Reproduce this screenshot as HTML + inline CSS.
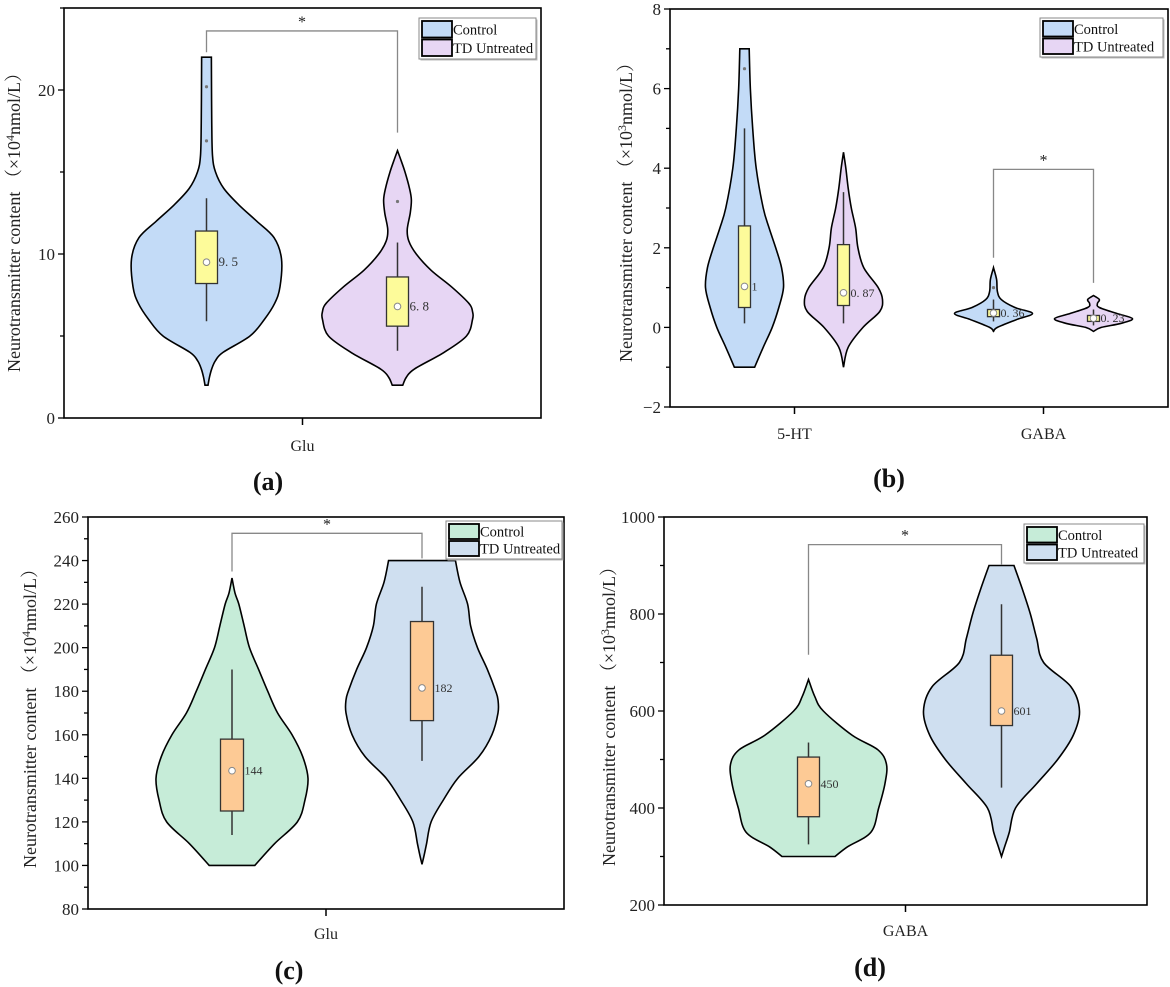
<!DOCTYPE html>
<html><head><meta charset="utf-8"><style>
html,body{margin:0;padding:0;background:#fff;}
svg{display:block;font-family:"Liberation Serif","Noto Serif CJK SC",serif;}
</style></head><body>
<svg id="fig" width="1170" height="987" viewBox="0 0 1170 987" xmlns="http://www.w3.org/2000/svg"></svg>
<script>
// ---------- DATA ----------
// Panel a
const aCategories=['Glu'];
const aMedian=[9.5,6.8];
const aQ1=[8.2,5.6];
const aQ3=[11.4,8.6];
const aWLo=[5.9,4.1];
const aWHi=[13.4,10.7];
const aLabels=['9. 5','6. 8'];
const aOutliers=[[20.2,16.9],[13.2]];
const aCtrlV=[2,2.5,3,3.5,4,5,6,7,8,9.7,11,12,13,14,15,16,18,20,22];
const aCtrlW=[0.02,0.04,0.07,0.12,0.22,0.58,0.77,0.91,0.98,1,0.9,0.67,0.43,0.23,0.12,0.08,0.07,0.067,0.065];
const aTdV=[2,2.5,3,4,5,6,6.5,7,8,9,10,10.8,11.5,12.5,13.3,14,15,15.8,16.3];
const aTdW=[0.07,0.12,0.23,0.62,0.92,1,1,0.95,0.72,0.45,0.25,0.15,0.13,0.17,0.185,0.16,0.1,0.04,0.0];
// Panel b
const bCategories=['5-HT','GABA'];
const bMedian=[1.03,0.87,0.36,0.23];
const bQ1=[0.5,0.55,0.27,0.15];
const bQ3=[2.55,2.08,0.45,0.3];
const bWLo=[0.1,0.1,0.15,0.05];
const bWHi=[5.0,3.4,0.7,0.45];
const bLabels=['1','0. 87','0. 36','0. 23'];
const bOutliers=[[6.5],[],[1.0],[]];
const bHtCtrlV=[-1,-0.5,0,0.5,1,1.5,2,2.5,3,4,5,6,7];
const bHtCtrlW=[0.26,0.48,0.71,0.88,1,0.95,0.8,0.63,0.48,0.3,0.21,0.15,0.12];
const bHtTdV=[-1,-0.5,0,0.4,0.7,1,1.5,2,2.5,3,3.5,4,4.4];
const bHtTdW=[0,0.12,0.5,0.93,1,0.89,0.52,0.37,0.31,0.2,0.12,0.06,0];
const bGaCtrlV=[-0.1,0,0.2,0.35,0.5,0.7,0.9,1.2,1.5];
const bGaCtrlW=[0,0.1,0.6,1,0.55,0.2,0.1,0.08,0];
const bGaTdV=[-0.1,0,0.1,0.22,0.35,0.5,0.6,0.7,0.8];
const bGaTdW=[0,0.2,0.7,1,0.6,0.15,0.1,0.15,0];
// Panel c
const cCategories=['Glu'];
const cMedian=[143.5,181.5];
const cQ1=[125,166.5];
const cQ3=[158,212];
const cWLo=[114,148];
const cWHi=[190,228];
const cLabels=['144','182'];
const cCtrlV=[100,110,120,130,140,150,160,170,180,190,200,210,220,225,232];
const cCtrlW=[0.3,0.56,0.86,0.96,1,0.93,0.79,0.6,0.47,0.35,0.23,0.16,0.09,0.04,0];
const cTdV=[100.5,105,110,120,130,140,150,160,170,176,180,190,200,210,220,230,240];
const cTdW=[0,0.03,0.06,0.12,0.28,0.47,0.75,0.92,1,1,0.97,0.86,0.73,0.64,0.6,0.5,0.44];
// Panel d
const dCategories=['GABA'];
const dMedian=[450,600];
const dQ1=[382,570];
const dQ3=[505,715];
const dWLo=[325,442];
const dWHi=[535,820];
const dLabels=['450','601'];
const dCtrlV=[300,320,350,400,450,490,520,550,600,630,665];
const dCtrlW=[0.34,0.5,0.8,0.9,0.98,1,0.89,0.56,0.19,0.08,0];
const dTdV=[300,320,350,400,450,500,550,600,650,700,750,800,850,900];
const dTdW=[0,0.04,0.1,0.18,0.45,0.72,0.92,1,0.89,0.54,0.45,0.37,0.27,0.16];

// ---------- DRAWING ----------
const NS='http://www.w3.org/2000/svg';
const svg=document.getElementById('fig');
function mk(tag,attrs,parent,text){const e=document.createElementNS(NS,tag);for(const k in attrs)e.setAttribute(k,attrs[k]);if(text!==undefined)e.textContent=text;(parent||svg).appendChild(e);return e;}

function smoothPath(pts){
  let d='M'+pts[0][0]+','+pts[0][1];
  for(let i=0;i<pts.length-1;i++){
    const p0=pts[Math.max(0,i-1)],p1=pts[i],p2=pts[i+1],p3=pts[Math.min(pts.length-1,i+2)];
    const c1=[p1[0]+(p2[0]-p0[0])/6,p1[1]+(p2[1]-p0[1])/6];
    const c2=[p2[0]-(p3[0]-p1[0])/6,p2[1]-(p3[1]-p1[1])/6];
    d+=' C'+c1[0]+','+c1[1]+' '+c2[0]+','+c2[1]+' '+p2[0]+','+p2[1];
  }
  return d;
}

function panel(P){
  const g=mk('g',{});
  
  
  const y=v=>P.y1-(v-P.ymin)/(P.ymax-P.ymin)*(P.y1-P.y0);
  const catX=i=>P.x0+(P.x1-P.x0)*(i+0.5)/P.cats.length;
  P.violins.forEach((vi,k)=>{
    const cx=catX(vi.cat)+vi.off;
    const right=vi.v.map((v,i)=>[cx+vi.w[i]*P.halfW,y(v)]);
    const left=vi.v.map((v,i)=>[cx-vi.w[i]*P.halfW,y(v)]).reverse();
    let d=smoothPath(right);
    d+=' L'+left[0][0]+','+left[0][1];
    d+=smoothPath(left).replace(/^M[^ C]+/,'');
    d+=' Z';
    const p=mk('path',{d:d,fill:vi.fill,stroke:'#000','stroke-width':1.6},g);
    
    
    const wl=mk('line',{x1:cx,x2:cx,y1:y(P.wlo[k]),y2:y(P.whi[k]),stroke:'#333','stroke-width':1.5},g);
    
    
    const b=mk('rect',{x:cx-P.boxHalf,y:y(P.q3[k]),width:P.boxHalf*2,height:y(P.q1[k])-y(P.q3[k]),fill:P.boxFill,stroke:'#333','stroke-width':1.3},g);
    
    
    const c=mk('circle',{cx:cx,cy:y(P.med[k]),r:3.3,fill:'#fff',stroke:'#888','stroke-width':1},g);
    
    
    const t=mk('text',{x:cx+P.boxHalf+1,y:y(P.med[k])+4,'font-size':P.medFont,fill:'#333'},g,P.labels[k]);
    
    
    (P.outliers&&P.outliers[k]||[]).forEach(o=>{
      const oc=mk('circle',{cx:cx,cy:y(o),r:1.6,fill:'#777'},g);
      
      
    });
  });
  const fr=mk('rect',{x:P.x0,y:P.y0,width:P.x1-P.x0,height:P.y1-P.y0,fill:'none',stroke:'#000','stroke-width':1.6},g);
  
  
  for(let v=P.ymin;v<=P.ymax+1e-9;v+=P.minor){
    const isMaj=P.majors.some(m=>Math.abs(m-v)<1e-9);
    mk('line',{x1:P.x0,x2:P.x0-(isMaj?6:4),y1:y(v),y2:y(v),stroke:'#000','stroke-width':1.3},g);
  }
  P.majors.forEach(m=>{
    const t=mk('text',{x:P.x0-9,y:y(m)+6,'text-anchor':'end','font-size':17,fill:'#222'},g,String(m).replace('-','−'));
    
    
  });
  P.cats.forEach((c,i)=>{
    mk('line',{x1:catX(i),x2:catX(i),y1:P.y1,y2:P.y1+7,stroke:'#000','stroke-width':1.5},g);
    const t=mk('text',{x:catX(i),y:P.catY,'text-anchor':'middle','font-size':16,fill:'#222'},g,c);
    
    
  });
  const yt=mk('text',{x:0,y:0,transform:'translate('+P.ytX+','+P.ytY+') rotate(-90)','text-anchor':'middle','font-size':18,fill:'#222'},g);
  
  
  mk('tspan',{},yt,'Neurotransmitter content （×10');
  mk('tspan',{'font-size':12,dy:-6},yt,P.exp);
  mk('tspan',{dy:6},yt,'nmol/L）');
  const br=P.bracket;
  const bx1=catX(br.cat)+br.o1,bx2=catX(br.cat)+br.o2;
  const bp=mk('path',{d:'M'+bx1+','+y(br.l)+' V'+y(br.top)+' H'+bx2+' V'+y(br.r),fill:'none',stroke:'#888','stroke-width':1.3},g);
  
  
  const st=mk('text',{x:(bx1+bx2)/2,y:y(br.top)-4,'text-anchor':'middle','font-size':16,fill:'#222'},g,'*');
  
  
  const L=P.legend;
  const lg=mk('g',{},g);
  
  
  mk('rect',{x:L.x+1.5,y:L.y+1.5,width:L.w,height:L.h,fill:'#bbb'},lg);
  mk('rect',{x:L.x,y:L.y,width:L.w,height:L.h,fill:'#fff',stroke:'#888','stroke-width':1},lg);
  P.legendItems.forEach((it,i)=>{
    const ry=L.y+2+i*(L.h-4)/2;
    const e=mk('g',{},lg);
    
    
    mk('rect',{x:L.x+3,y:ry+1,width:30,height:(L.h-4)/2-2,fill:it.fill,stroke:'#000','stroke-width':1.8},e);
    mk('text',{x:L.x+34,y:ry+(L.h-4)/4+5,'font-size':14.5,fill:'#111'},e,it.text);
  });
  const pl=mk('text',{x:P.plX,y:P.plY,'text-anchor':'middle','font-size':26,'font-weight':'bold',fill:'#111'},g,P.panelLabel);
  
  
}

const BLUE='#c3dbf7',PURP='#e7d6f4',GREEN='#c6ecd8',BGRAY='#cfdff0',YEL='#fdfb9a',ORG='#fdca95';

panel({name:'panel-a',x0:64,x1:541,y0:8,y1:418,ymin:0,ymax:25,majors:[0,10,20],minor:5,cats:aCategories,
  halfW:75,boxHalf:11,boxFill:YEL,med:aMedian,q1:aQ1,q3:aQ3,wlo:aWLo,whi:aWHi,labels:aLabels,outliers:aOutliers,medFont:13,
  violins:[{cat:0,off:-96,v:aCtrlV,w:aCtrlW,fill:BLUE,label:'control'},{cat:0,off:95,v:aTdV,w:aTdW,fill:PURP,label:'td-untreated'}],
  catY:451,ytX:20,ytY:218,exp:'4',bracket:{cat:0,o1:-96,o2:95,top:23.6,l:22.3,r:17.4},
  legend:{x:419,y:18,w:117,h:41},legendItems:[{key:'control',fill:BLUE,text:'Control'},{key:'td-untreated',fill:PURP,text:'TD Untreated'}],
  panelLabel:'(a)',plX:268,plY:490});

panel({name:'panel-b',x0:670,x1:1168,y0:9,y1:407,ymin:-2,ymax:8,majors:[-2,0,2,4,6,8],minor:1,cats:bCategories,
  halfW:39,boxHalf:6,boxFill:YEL,med:bMedian,q1:bQ1,q3:bQ3,wlo:bWLo,whi:bWHi,labels:bLabels,outliers:bOutliers,medFont:12,
  violins:[{cat:0,off:-50,v:bHtCtrlV,w:bHtCtrlW,fill:BLUE,label:'5ht-control'},{cat:0,off:49,v:bHtTdV,w:bHtTdW,fill:PURP,label:'5ht-td'},
           {cat:1,off:-50,v:bGaCtrlV,w:bGaCtrlW,fill:BLUE,label:'gaba-control'},{cat:1,off:50,v:bGaTdV,w:bGaTdW,fill:PURP,label:'gaba-td'}],
  catY:439,ytX:632,ytY:208,exp:'3',bracket:{cat:1,o1:-50,o2:50,top:3.97,l:1.75,r:1.12},
  legend:{x:1040,y:18,w:123,h:39},legendItems:[{key:'control',fill:BLUE,text:'Control'},{key:'td-untreated',fill:PURP,text:'TD Untreated'}],
  panelLabel:'(b)',plX:889,plY:487});

panel({name:'panel-c',x0:88,x1:564,y0:517,y1:909,ymin:80,ymax:260,majors:[80,100,120,140,160,180,200,220,240,260],minor:10,cats:cCategories,
  halfW:76,boxHalf:11.5,boxFill:ORG,med:cMedian,q1:cQ1,q3:cQ3,wlo:cWLo,whi:cWHi,labels:cLabels,outliers:null,medFont:12,
  violins:[{cat:0,off:-94,v:cCtrlV,w:cCtrlW,fill:GREEN,label:'control'},{cat:0,off:96,v:cTdV,w:cTdW,fill:BGRAY,label:'td-untreated'}],
  catY:939,ytX:36,ytY:714,exp:'4',bracket:{cat:0,o1:-94,o2:96,top:252.5,l:235,r:241},
  legend:{x:446,y:521,w:116,h:38},legendItems:[{key:'control',fill:GREEN,text:'Control'},{key:'td-untreated',fill:BGRAY,text:'TD Untreated'}],
  panelLabel:'(c)',plX:289,plY:979});

panel({name:'panel-d',x0:664,x1:1147,y0:517,y1:905,ymin:200,ymax:1000,majors:[200,400,600,800,1000],minor:100,cats:dCategories,
  halfW:78,boxHalf:11,boxFill:ORG,med:dMedian,q1:dQ1,q3:dQ3,wlo:dWLo,whi:dWHi,labels:dLabels,outliers:null,medFont:12,
  violins:[{cat:0,off:-97,v:dCtrlV,w:dCtrlW,fill:GREEN,label:'control'},{cat:0,off:96,v:dTdV,w:dTdW,fill:BGRAY,label:'td-untreated'}],
  catY:936,ytX:615,ytY:712,exp:'3',bracket:{cat:0,o1:-97,o2:96,top:943,l:716,r:901},
  legend:{x:1024,y:524,w:120,h:39},legendItems:[{key:'control',fill:GREEN,text:'Control'},{key:'td-untreated',fill:BGRAY,text:'TD Untreated'}],
  panelLabel:'(d)',plX:870,plY:976});
</script>
</body></html>
